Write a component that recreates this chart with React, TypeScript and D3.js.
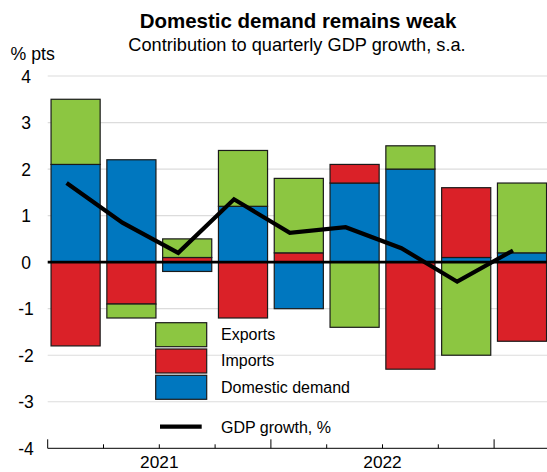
import React from 'react';
import * as d3 from 'd3';

const quarters = ['2021Q1', '2021Q2', '2021Q3', '2021Q4', '2022Q1', '2022Q2', '2022Q3', '2022Q4', '2023Q1'];
const domesticDemand = [2.1, 2.2, -0.2, 1.2, -1.0, 1.7, 2.0, 0.1, 0.2];
const imports = [-1.8, -0.9, 0.1, -1.2, 0.2, 0.4, -2.3, 1.5, -1.7];
const exportsData = [1.4, -0.3, 0.4, 1.2, 1.6, -1.4, 0.5, -2.0, 1.5];
const gdpGrowth = [1.7, 0.85, 0.2, 1.35, 0.63, 0.75, 0.3, -0.42, 0.25];
const yTicks = [4, 3, 2, 1, 0, -1, -2, -3, -4];
const years = ['2021', '2022'];

const series = [
    { key: 'dd', label: 'Domestic demand', color: '#0077bf' },
    { key: 'imp', label: 'Imports', color: '#da2128' },
    { key: 'exp', label: 'Exports', color: '#8cc641' },
];

const W = 547;
const H = 472;
const font = 'Arial, "Liberation Sans", sans-serif';

export default function App() {
    const left = 47.7;
    const top = 76;
    const bottom = 448.3;

    const x = d3.scaleBand()
        .domain(quarters)
        .range([left, left + quarters.length * 55.8])
        .paddingInner(0.12)
        .paddingOuter(0.06);

    const y = d3.scaleLinear().domain([-4, 4]).range([bottom, top]);

    const rows = quarters.map((q, i) => ({ q, dd: domesticDemand[i], imp: imports[i], exp: exportsData[i] }));
    const stacked = d3.stack<any>()
        .keys(series.map(s => s.key))
        .offset(d3.stackOffsetDiverging)(rows);

    const lineGen = d3.line<number>()
        .x((_, i) => x(quarters[i])! + x.bandwidth() / 2 - 9)
        .y(d => y(d));

    // quarter boundary ticks
    const tickXs = quarters.map(q => x(q)! - x.step() * x.paddingInner() / 2);

    return (
        <svg width={W} height={H} style={{ position: 'absolute', left: 0, top: 0, background: '#fff' }} fontFamily={font}>
            <text x={298} y={28.3} textAnchor="middle" fontSize={20.5} fontWeight="bold">Domestic demand remains weak</text>
            <text x={297} y={51} textAnchor="middle" fontSize={18.2}>Contribution to quarterly GDP growth, s.a.</text>
            <text x={10.5} y={60} fontSize={17.7}>% pts</text>

            {/* grid */}
            {yTicks.filter(t => t !== 0 && t !== -4).map(t => (
                <line key={t} x1={left} x2={W} y1={y(t)} y2={y(t)} stroke="#dcdcdc" strokeWidth={1.2} />
            ))}
            {yTicks.map(t => (
                <text key={t} x={26} y={y(t)} dy="0.38em" textAnchor="middle" fontSize={17.5}>{t}</text>
            ))}

            {/* bars */}
            {stacked.map((layer, li) => (
                <g key={layer.key} fill={series[li].color} stroke="#1a1a1a" strokeWidth={1.2}>
                    {layer.map((d, i) => {
                        const y0 = y(d[1]);
                        const y1 = y(d[0]);
                        if (Math.abs(y1 - y0) < 0.01) return null;
                        return <rect key={i} x={x(quarters[i])} y={y0} width={x.bandwidth()} height={y1 - y0} />;
                    })}
                </g>
            ))}

            {/* zero line */}
            <line x1={left} x2={W} y1={y(0)} y2={y(0)} stroke="#000" strokeWidth={2.6} />

            {/* gdp line */}
            <path d={lineGen(gdpGrowth)!} fill="none" stroke="#000" strokeWidth={4.2} strokeLinejoin="miter" />

            {/* x axis */}
            <line x1={left} x2={W} y1={bottom} y2={bottom} stroke="#000" strokeWidth={1} />
            {tickXs.map((tx, i) => (
                <line key={i} x1={tx} x2={tx} y1={bottom} y2={bottom - (i % 4 === 0 ? 9 : 4)} stroke="#000" strokeWidth={1} />
            ))}
            {years.map((yr, i) => (
                <text key={yr} x={(tickXs[i * 4] + (tickXs[i * 4 + 4] ?? W)) / 2} y={468.3} textAnchor="middle" fontSize={17.3}>{yr}</text>
            ))}

            {/* legend */}
            {[...series].reverse().map((s, i) => (
                <g key={s.key}>
                    <rect x={155.7} y={322.7 + i * 26.3} width={51} height={24} fill={s.color} stroke="#1a1a1a" strokeWidth={1.2} />
                    <text x={221} y={340 + i * 26.4} fontSize={16}>{s.label}</text>
                </g>
            ))}
            <line x1={160} x2={201.7} y1={426.7} y2={426.7} stroke="#000" strokeWidth={4.2} />
            <text x={221} y={432.7} fontSize={16}>GDP growth, %</text>
        </svg>
    );
}
